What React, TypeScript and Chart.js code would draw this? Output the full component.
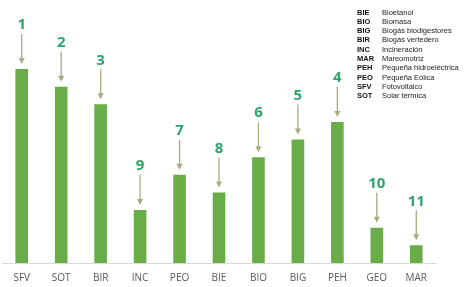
import React, { useEffect, useRef } from "react";
import { Chart, registerables } from "chart.js";

Chart.register(...registerables);

const categories = ["SFV", "SOT", "BIR", "INC", "PEO", "BIE", "BIO", "BIG", "PEH", "GEO", "MAR"];
const values = [11, 10, 9, 3, 5, 4, 6, 7, 8, 2, 1];
const ranks = ["1", "2", "3", "9", "7", "8", "6", "5", "4", "10", "11"];
const legendCodes = ["BIE", "BIO", "BIG", "BIR", "INC", "MAR", "PEH", "PEO", "SFV", "SOT"];
const legendNames = [
  "Bioetanol",
  "Biomasa",
  "Biogás biodigestores",
  "Biogás vertedero",
  "Incineración",
  "Mareomotriz",
  "Pequeña hidroeléctrica",
  "Pequeña Eólica",
  "Fotovoltaico",
  "Solar térmica",
];

const annotPlugin = {
  id: "annot",
  afterDatasetsDraw(chart: any) {
    const ctx = chart.ctx;
    const meta = chart.getDatasetMeta(0);
    ctx.save();
    meta.data.forEach((bar: any, i: number) => {
      const x = bar.x;
      const top = bar.y;
      const labelY = top - 44;
      ctx.fillStyle = "#2ea46c";
      ctx.font = "bold 15px 'Open Sans'";
      ctx.textAlign = "center";
      ctx.textBaseline = "middle";
      ctx.fillText(ranks[i], x, labelY);
      const y0 = labelY + 9;
      const tip = top - 5;
      ctx.strokeStyle = "#a4ad82";
      ctx.fillStyle = "#a4ad82";
      ctx.lineWidth = 1.3;
      ctx.beginPath();
      ctx.moveTo(x, y0);
      ctx.lineTo(x, tip - 5);
      ctx.stroke();
      ctx.beginPath();
      ctx.moveTo(x - 3, tip - 6);
      ctx.lineTo(x + 3, tip - 6);
      ctx.lineTo(x, tip);
      ctx.closePath();
      ctx.fill();
    });
    // legend
    ctx.textAlign = "left";
    ctx.textBaseline = "middle";
    legendCodes.forEach((c, i) => {
      const y = 12.5 + i * 9.3;
      ctx.fillStyle = "#111";
      ctx.font = "bold 7.5px 'Liberation Sans'";
      ctx.fillText(c, 357, y);
      ctx.fillStyle = "#222";
      ctx.font = "7.5px 'Liberation Sans'";
      ctx.fillText(legendNames[i], 382, y);
    });
    ctx.restore();
  },
};

export default function App() {
  const ref = useRef<HTMLCanvasElement>(null);
  useEffect(() => {
    const chart = new Chart(ref.current!, {
      type: "bar",
      data: {
        labels: categories,
        datasets: [
          {
            data: values,
            backgroundColor: "#69ad49",
            barPercentage: 0.32,
            categoryPercentage: 1,
          },
        ],
      },
      options: {
        animation: false,
        responsive: false,
        layout: { padding: { top: 51.4, left: 2, right: 28, bottom: 0 } },
        plugins: { legend: { display: false }, tooltip: { enabled: false } },
        scales: {
          x: {
            grid: { display: false, drawTicks: false },
            border: { display: true, color: "#d9d9d9", width: 1 },
            ticks: { color: "#595959", font: { family: "Open Sans", size: 10 }, padding: 9 },
            afterFit(scale: any) {
              scale.height = 24;
            },
          },
          y: { display: false, min: 0, max: 12 },
        },
      },
      plugins: [annotPlugin],
    });
    return () => chart.destroy();
  }, []);
  return (
    <div style={{ position: "fixed", left: 0, top: 0, width: 464, height: 287, background: "#fff" }}>
      <canvas ref={ref} width={464} height={287} />
    </div>
  );
}
